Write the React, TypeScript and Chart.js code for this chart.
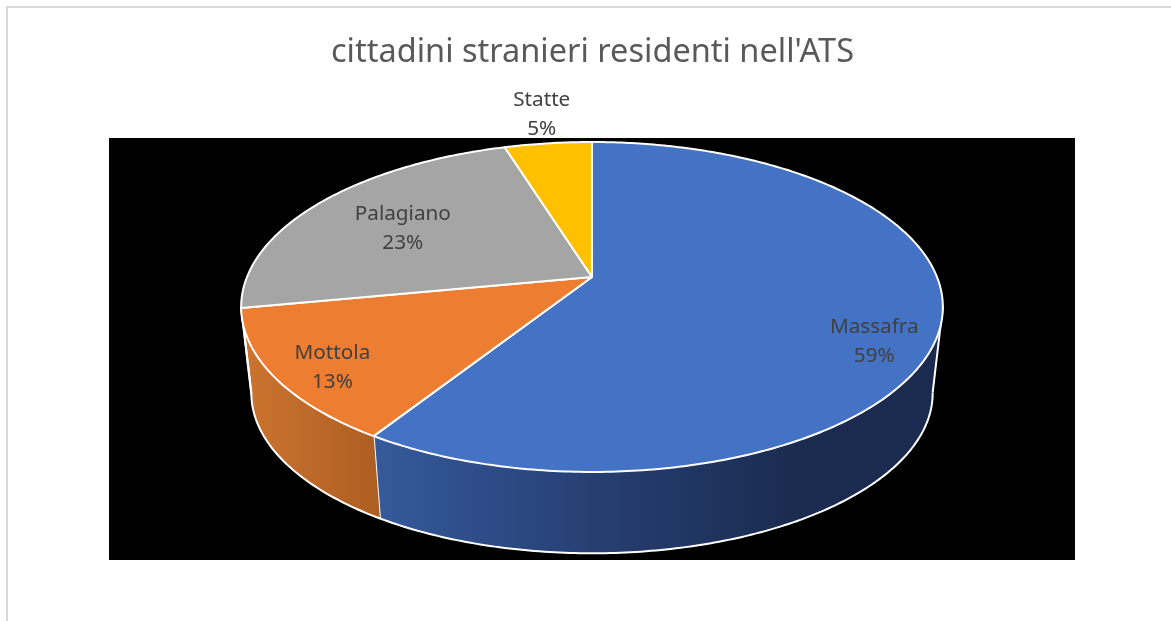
import React, { useEffect, useRef } from "react";
import { Chart, registerables } from "chart.js";

Chart.register(...registerables);

const categories = ["Massafra", "Mottola", "Palagiano", "Statte"];
const shares = [59, 13, 23.2, 4.8];
const topColors = ["#4472c4", "#ed7d31", "#a5a5a5", "#ffc000"];
const sideStops: [number, string][][] = [
  [[380, "#35599b"], [630, "#243b6c"], [800, "#1a2b4f"]],
  [[245, "#cc7430"], [380, "#ad5e22"]],
  [[0, "#636363"], [1171, "#636363"]],
  [[0, "#997300"], [1171, "#997300"]],
];
const titleText = "cittadini stranieri residenti nell'ATS";
const labelOffsets = [[6, 27], [-11, 12], [31, 13], [-14, -52]];
const FONT = '"Noto Sans", sans-serif';

const CX = 592, CY = 277, RX = 345, RY = 159.5, K = -0.1818;
const DEPTH = 87, SHRINK = 0.971;

function project(a: number, r: number, low = false) {
  const u = r * Math.cos(a), v = r * Math.sin(a);
  const d = 1 + K * v;
  const s = low ? SHRINK : 1;
  return { x: CX + (s * RX * u) / d, y: CY + (low ? DEPTH : 0) + (s * RY * v) / d };
}

function rim(ctx: CanvasRenderingContext2D, a0: number, a1: number, low: boolean, start: boolean) {
  const n = Math.max(2, Math.ceil(Math.abs(a1 - a0) * 80));
  for (let i = 0; i <= n; i++) {
    const p = project(a0 + ((a1 - a0) * i) / n, 1, low);
    if (i === 0 && start) ctx.moveTo(p.x, p.y);
    else ctx.lineTo(p.x, p.y);
  }
}

const pie3d = {
  id: "pie3d",
  beforeDraw(chart: any) {
    const ctx = chart.ctx;
    ctx.save();
    ctx.fillStyle = "#ffffff";
    ctx.fillRect(0, 0, chart.width, chart.height);
    ctx.fillStyle = "#d9d9d9";
    ctx.fillRect(6, 6, chart.width - 6, 2);
    ctx.fillRect(6, 6, 2, chart.height - 6);
    ctx.fillStyle = "#000000";
    ctx.fillRect(109, 138, 966, 422);
    ctx.restore();
  },
  beforeDatasetsDraw(chart: any) {
    const ctx: CanvasRenderingContext2D = chart.ctx;
    const arcs = chart.getDatasetMeta(0).data;
    const silhouette = Math.atan2(-K, 1); // rim angle where the outline is widest
    const rightA = silhouette;
    const leftA = Math.PI - silhouette;
    ctx.save();
    ctx.lineJoin = "round";
    ctx.strokeStyle = "#ffffff";
    ctx.lineWidth = 2;

    arcs.forEach((arc: any, i: number) => {
      const a0 = Math.max(arc.startAngle, -Math.PI / 2);
      const a1 = arc.endAngle;
      const s = Math.max(a0, rightA), e = Math.min(a1, leftA);
      if (e <= s) return;
      const x0 = sideStops[i][0][0], x1 = sideStops[i][sideStops[i].length - 1][0];
      const g = ctx.createLinearGradient(x0, 0, x1, 0);
      sideStops[i].forEach(([x, c]) => g.addColorStop((x - x0) / (x1 - x0), c));
      ctx.fillStyle = g;
      ctx.beginPath();
      rim(ctx, s, e, false, true);
      rim(ctx, e, s, true, false);
      ctx.closePath();
      ctx.fill();
      ctx.beginPath();
      rim(ctx, s, e, true, true);
      ctx.stroke();
      const t = project(e, 1), b = project(e, 1, true);
      ctx.beginPath();
      ctx.moveTo(t.x, t.y);
      ctx.lineTo(b.x, b.y);
      ctx.stroke();
      if (s === rightA) {
        const t2 = project(s, 1), b2 = project(s, 1, true);
        ctx.beginPath();
        ctx.moveTo(t2.x, t2.y);
        ctx.lineTo(b2.x, b2.y);
        ctx.stroke();
      }
    });

    arcs.forEach((arc: any) => {
      const c = project(0, 0);
      ctx.beginPath();
      ctx.moveTo(c.x, c.y);
      rim(ctx, arc.startAngle, arc.endAngle, false, false);
      ctx.closePath();
      ctx.fillStyle = arc.options.backgroundColor;
      ctx.fill();
      ctx.stroke();
    });

    ctx.restore();
    return false;
  },
  afterDraw(chart: any) {
    const ctx: CanvasRenderingContext2D = chart.ctx;
    const arcs = chart.getDatasetMeta(0).data;
    const total = shares.reduce((a, b) => a + b, 0);
    ctx.save();
    ctx.font = `20.7px ${FONT}`;
    ctx.fillStyle = "#404040";
    ctx.textAlign = "center";
    ctx.textBaseline = "middle";
    arcs.forEach((arc: any, i: number) => {
      const p = project((arc.startAngle + arc.endAngle) / 2, 0.8);
      const x = p.x + labelOffsets[i][0], y = p.y + labelOffsets[i][1];
      ctx.fillText(categories[i], x, y - 14.5);
      ctx.fillText(`${Math.round((shares[i] / total) * 100)}%`, x, y + 14.5);
    });
    ctx.restore();
  },
};

export default function App() {
  const ref = useRef<HTMLCanvasElement>(null);
  useEffect(() => {
    document.body.style.margin = "0";
    const chart = new Chart(ref.current!, {
      type: "pie",
      data: {
        labels: categories,
        datasets: [{ data: shares, backgroundColor: topColors, borderWidth: 0 }],
      },
      options: {
        animation: false,
        responsive: false,
        layout: { padding: { left: 14, top: 33 } },
        plugins: {
          legend: { display: false },
          tooltip: { enabled: false },
          title: {
            display: true,
            text: titleText,
            color: "#595959",
            font: { family: FONT, size: 32.5, weight: "normal" },
            padding: 0,
          },
        },
      },
      plugins: [pie3d],
    } as any);
    return () => chart.destroy();
  }, []);
  return (
    <div style={{ position: "absolute", left: 0, top: 0, width: 1171, height: 621 }}>
      <canvas ref={ref} width={1171} height={621} style={{ display: "block" }} />
    </div>
  );
}
